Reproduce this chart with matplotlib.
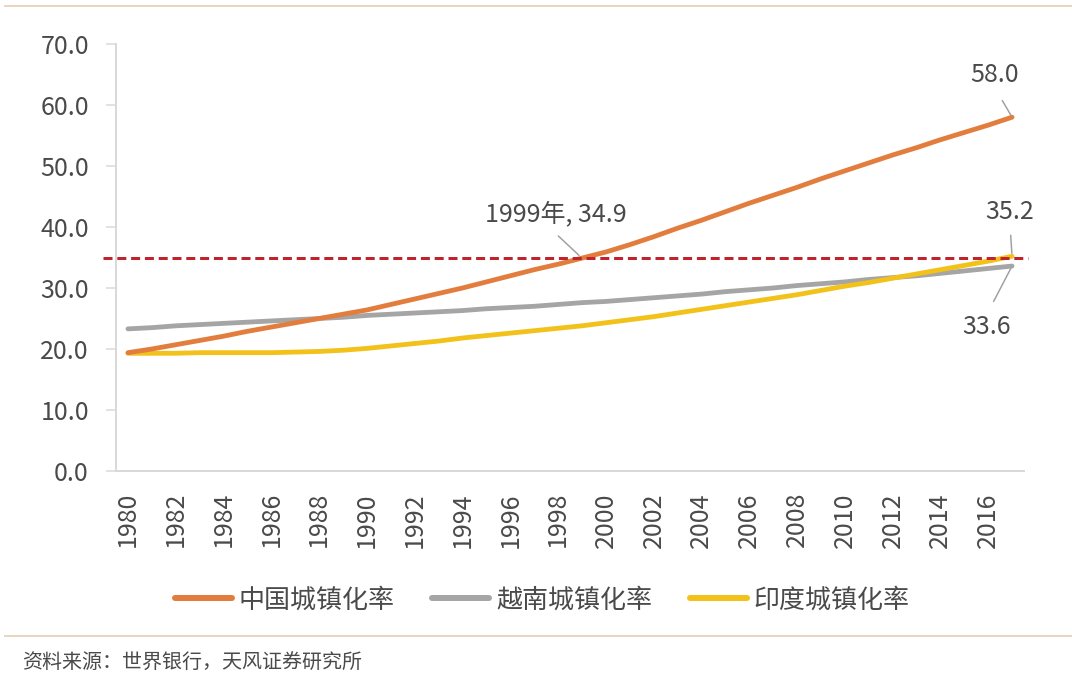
import matplotlib
matplotlib.use("Agg")
import matplotlib.pyplot as plt
from matplotlib.lines import Line2D

plt.rcParams['font.family'] = ['Noto Sans CJK SC', 'DejaVu Sans']

years = list(range(1980, 2018))
china = [19.4, 20.0, 20.7, 21.4, 22.1, 22.9, 23.6, 24.3, 25.0, 25.7,
         26.4, 27.3, 28.2, 29.1, 30.0, 31.0, 32.0, 33.0, 33.9, 34.9,
         35.9, 37.1, 38.4, 39.8, 41.1, 42.5, 43.9, 45.2, 46.5, 47.9,
         49.2, 50.5, 51.8, 53.0, 54.3, 55.5, 56.7, 58.0]
vietnam = [23.3, 23.5, 23.8, 24.0, 24.2, 24.4, 24.6, 24.8, 25.0, 25.2,
           25.5, 25.7, 25.9, 26.1, 26.3, 26.6, 26.8, 27.0, 27.3, 27.6,
           27.8, 28.1, 28.4, 28.7, 29.0, 29.4, 29.7, 30.0, 30.4, 30.7,
           31.0, 31.4, 31.7, 32.0, 32.4, 32.8, 33.2, 33.6]
india = [19.3, 19.3, 19.3, 19.4, 19.4, 19.4, 19.4, 19.5, 19.6, 19.8,
         20.1, 20.5, 20.9, 21.3, 21.8, 22.2, 22.6, 23.0, 23.4, 23.8,
         24.3, 24.8, 25.3, 25.9, 26.5, 27.1, 27.7, 28.3, 28.9, 29.6,
         30.3, 30.9, 31.6, 32.3, 33.0, 33.7, 34.4, 35.2]
series_names = ['中国城镇化率', '越南城镇化率', '印度城镇化率']
threshold = 34.9
threshold_year = 1999
yticks = [0, 10, 20, 30, 40, 50, 60, 70]
xticks = list(range(1980, 2017, 2))
source = '资料来源：世界银行，天风证券研究所'

c_china = '#E27D3E'
c_viet = '#A5A5A5'
c_india = '#F2C21B'
c_red = '#C0232B'
c_text = '#4A4A4A'
c_lead = '#A0A0A0'
c_rule = '#E8D6BE'

dpi = 72
fig = plt.figure(figsize=(1072 / dpi, 676 / dpi), dpi=dpi)
fig.patch.set_facecolor('white')
ax = fig.add_axes([116 / 1072, 1 - 471 / 676, (1024 - 116) / 1072, (471 - 44) / 676])

ax.plot(years, vietnam, color=c_viet, lw=4.8, solid_capstyle='round', zorder=3)
ax.plot(years, india, color=c_india, lw=4.8, solid_capstyle='round', zorder=3)
ax.plot(years, china, color=c_china, lw=4.8, solid_capstyle='round', zorder=4)

ax.axhline(threshold, xmin=-0.014, xmax=1.004, color=c_red, lw=3,
           dashes=(3, 1.6), clip_on=False, zorder=5)

ax.set_xlim(1979.5, 2017.5)
ax.set_ylim(0, 70)
ax.set_yticks(yticks)
ax.set_yticklabels([f'{v:.1f}' for v in yticks])
ax.set_xticks(xticks)
ax.set_xticklabels([str(x) for x in xticks], rotation=90, va='top')

for s in ['top', 'right']:
    ax.spines[s].set_visible(False)
for s in ['left', 'bottom']:
    ax.spines[s].set_color('#D9D9D9')
    ax.spines[s].set_linewidth(2)
ax.tick_params(axis='y', length=10, width=1.5, color='#D9D9D9', pad=17,
               labelsize=25, labelcolor=c_text)
ax.tick_params(axis='x', length=0, pad=21, labelsize=25, labelcolor=c_text)

arrow = dict(arrowstyle='-', color=c_lead, lw=1.5)
i99 = years.index(threshold_year)
ax.annotate(f'{threshold_year}年, {china[i99]:.1f}', xy=(threshold_year, china[i99]),
            xytext=(-26, 44), textcoords='offset points', ha='center', va='center',
            fontsize=25, color=c_text,
            arrowprops=dict(arrow, relpos=(0.45, 0), shrinkA=10, shrinkB=4))
ax.annotate(f'{china[-1]:.1f}', xy=(years[-1], china[-1]),
            xytext=(-17, 42), textcoords='offset points', ha='center', va='center',
            fontsize=25, color=c_text,
            arrowprops=dict(arrow, relpos=(0.5, 0), shrinkA=12, shrinkB=1))
ax.annotate(f'{india[-1]:.1f}', xy=(years[-1], india[-1]),
            xytext=(-2, 44), textcoords='offset points', ha='center', va='center',
            fontsize=25, color=c_text,
            arrowprops=dict(arrow, relpos=(0.5, 0), shrinkA=8, shrinkB=3))
ax.annotate(f'{vietnam[-1]:.1f}', xy=(years[-1], vietnam[-1]),
            xytext=(-25, -61), textcoords='offset points', ha='center', va='center',
            fontsize=25, color=c_text,
            arrowprops=dict(arrow, relpos=(0.5, 1), shrinkA=12, shrinkB=1))

handles = [Line2D([0], [0], color=c, lw=6, solid_capstyle='round')
           for c in (c_china, c_viet, c_india)]
fig.legend(handles, series_names, loc='center', bbox_to_anchor=(542 / 1072, 1 - 600 / 676),
           ncol=3, frameon=False, fontsize=26, labelcolor=c_text,
           handlelength=2.2, handletextpad=0.25, columnspacing=1.45)

fig.add_artist(Line2D([5 / 1072, 1], [1 - 6 / 676, 1 - 6 / 676], color=c_rule, lw=2))
fig.add_artist(Line2D([5 / 1072, 1], [1 - 636 / 676, 1 - 636 / 676], color=c_rule, lw=2))
fig.text(22 / 1072, 1 - 663 / 676, source, fontsize=20, color=c_text, va='center', ha='left')

fig.savefig('out.png', dpi=dpi, facecolor='white')
